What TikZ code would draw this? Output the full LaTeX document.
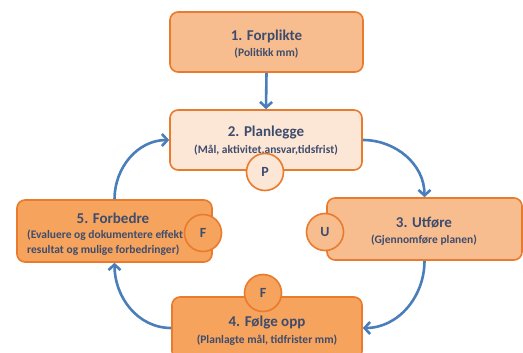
\documentclass[tikz,border=0pt]{standalone}
\usepackage{fontspec}
\setmainfont{Carlito}
\usetikzlibrary{arrows.meta}
\definecolor{bordo}{HTML}{E97B2E}
\definecolor{fillA}{HTML}{F8BD8F}
\definecolor{fillB}{HTML}{FCE6D6}
\definecolor{fillC}{HTML}{F5A35D}
\definecolor{txt}{HTML}{3E4C6C}
\definecolor{arr}{HTML}{4A7EBB}
\tikzset{
  box/.style={draw=bordo, line width=1.6pt, rounded corners=8pt, inner sep=0pt},
  circ/.style={draw=bordo, line width=1.6pt, circle, minimum size=37pt, inner sep=0pt, text=txt, font=\bfseries\fontsize{14}{14}\selectfont},
  ttl/.style={text=txt, font=\bfseries\fontsize{15}{16}\selectfont, inner sep=0pt},
  sub/.style={text=txt, font=\bfseries\fontsize{11.5}{12}\selectfont, inner sep=0pt},
  flow/.style={draw=arr, line width=2.6pt, -{Straight Barb[length=5.5pt,width=12pt]}}
}
\begin{document}
\begin{tikzpicture}[x=1pt,y=-1pt]
\useasboundingbox (0,0) rectangle (523,353);
\clip (0,0) rectangle (523,353);
\fill[white] (0,0) rectangle (523,353);
% boxes
\node[box, fill=fillA, minimum width=193pt, minimum height=60pt] (b1) at (266.5,42) {};
\node[box, fill=fillB, minimum width=192pt, minimum height=60pt] (b2) at (266,140) {};
\node[box, fill=fillA, minimum width=195pt, minimum height=62pt] (b3) at (424.5,229) {};
\node[box, fill=fillC, minimum width=190pt, minimum height=62pt] (b4) at (267,328) {};
\node[box, fill=fillC, minimum width=195pt, minimum height=62pt] (b5) at (114.5,231) {};
% texts
\node[ttl] (t1) at (266.5,36) {1. Forplikte};
\node[sub] (s1) at (266.5,53) {(Politikk mm)};
\node[ttl] (t2) at (266,133) {2. Planlegge};
\node[sub] (s2) at (266,150) {(Mål, aktivitet,ansvar,tidsfrist)};
\node[ttl] (t3) at (424,223) {3. Utføre};
\node[sub] (s3) at (424,240) {(Gjennomføre planen)};
\node[ttl] (t4) at (267,323) {4. Følge opp};
\node[sub] (s4) at (267,340) {(Planlagte mål, tidfrister mm)};
\node[ttl] (t5) at (113,218) {5. Forbedre};
\node[sub, anchor=west] (s5a) at (27,235) {(Evaluere og dokumentere effekt};
\node[sub, anchor=west] (s5b) at (27,250) {resultat og mulige forbedringer)};
% circles
\node[circ, fill=fillB] (cP) at (265,172) {P};
\node[circ, fill=fillA] (cU) at (325,232) {U};
\node[circ, fill=fillC] (cF1) at (203,233) {F};
\node[circ, fill=fillC] (cF2) at (263,293) {F};
% arrows
\draw[flow] (b1.south) -- (b2.north);
\draw[flow] (b2.east) to[out=0,in=90] (b3.north);
\draw[flow] (b3.south) to[out=-90,in=0] (b4.east);
\draw[flow] (b4.west) to[out=180,in=-90] (b5.south);
\draw[flow] (b5.north) to[out=90,in=180] (b2.west);
\end{tikzpicture}
\end{document}
